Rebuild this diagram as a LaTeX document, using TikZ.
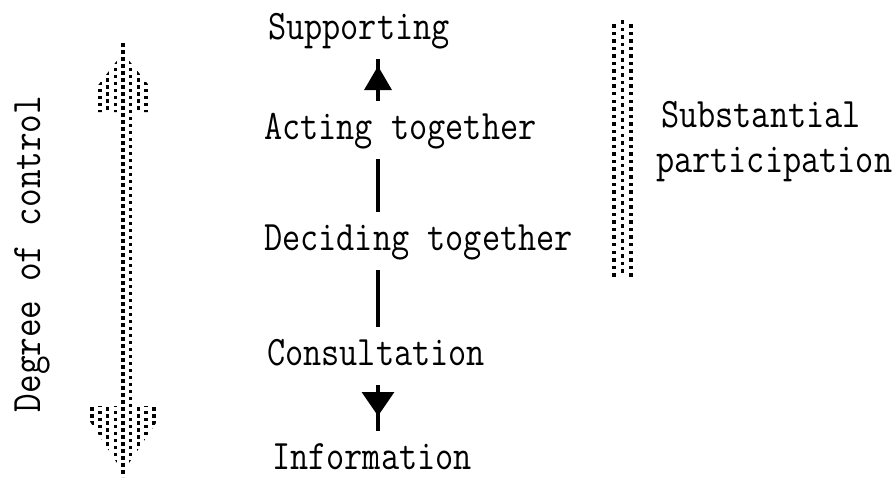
\documentclass[tikz,border=0pt]{standalone}
\usepackage{fontspec}
\usetikzlibrary{arrows.meta,decorations.markings}
\begin{document}
\begin{tikzpicture}[x=1pt,y=-1pt,
  txt/.style={font=\ttfamily\fontsize{42}{42}\selectfont\addfontfeatures{FakeBold=5}, inner sep=0pt, outer xsep=0pt, outer ysep=12pt,
              text height=26pt, text depth=8pt, anchor=base west},
  link/.style={line width=4pt},
  headup/.style={line width=3.5pt, postaction={decorate},
     decoration={markings, mark=at position -7pt with {\arrow{Triangle[length=24pt,width=27pt]}}}},
  headdown/.style={line width=3.5pt, postaction={decorate},
     decoration={markings, mark=at position -15pt with {\arrow{Triangle[length=24pt,width=32pt]}}}},
  stip/.style={fill=black}
]
\useasboundingbox (0,0) rectangle (895,477);

% nodes
\node[txt] (supporting) at (268,39)  {\scalebox{0.84}[1]{Supporting}};
\node[txt] (acting)     at (264,139) {\scalebox{0.84}[1]{Acting together}};
\node[txt] (deciding)   at (264,250) {\scalebox{0.84}[1]{Deciding together}};
\node[txt] (consult)    at (267,365) {\scalebox{0.84}[1]{Consultation}};
\node[txt, text depth=0pt, outer ysep=12pt] (info) at (272,469) {\scalebox{0.84}[1]{Information}};
\node[txt] (subst)      at (661,127) {\scalebox{0.84}[1]{Substantial}};
\node[txt] (partic)     at (656,172) {\scalebox{0.84}[1]{participation}};
\node[txt, rotate=90, anchor=base] (degree) at (40,254) {\scalebox{0.86}[1]{Degree of control}};

\coordinate (spine) at (378,0);

% connectors
\draw[headup]   (acting.north -| spine)   -- (supporting.south -| spine);
\draw[link]     (acting.south -| spine)   -- (deciding.north -| spine);
\draw[link]     (deciding.south -| spine) -- (consult.north -| spine);
\draw[headdown] (consult.south -| spine)  -- (info.north -| spine);

% stippled double arrow (degree of control)
\begin{scope}
\clip (119,42) -- (127,42) -- (127,58) -- (151,88) -- (151,112) -- (135,112) -- (135,406)
   -- (158,406) -- (158,420) -- (127,466) -- (127,477) -- (119,477) -- (119,466)
   -- (89,420) -- (89,406) -- (119,406) -- (119,112) -- (96,112) -- (96,88) -- (119,58) -- cycle;
\foreach \k in {-5,...,5}{
  \pgfmathsetmacro\xx{123+7.7*\k}
  \pgfmathsetmacro\yo{mod(abs(\k),2)*3.5}
  \foreach \j in {0,...,63}{
    \fill[stip] (\xx-1.75,43+\yo+7*\j) rectangle ++(3.5,3.5);
  }
}
\end{scope}

% stippled bar (substantial participation)
\foreach \xx/\yo in {614/24, 622.5/20.25, 631/24}{
  \foreach \j in {0,...,33}{
    \fill[stip] (\xx-1.75,\yo+7.55*\j) rectangle ++(3.5,3.5);
  }
}
\end{tikzpicture}
\end{document}
